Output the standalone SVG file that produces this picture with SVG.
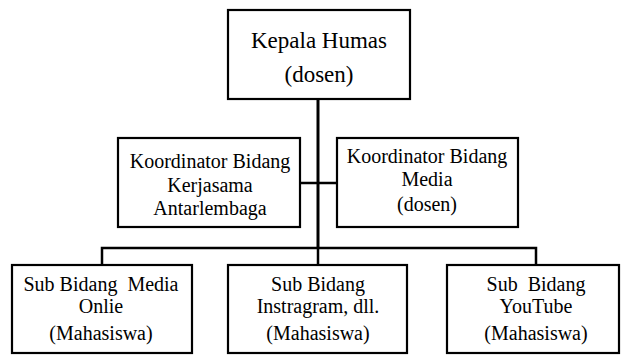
<svg xmlns="http://www.w3.org/2000/svg" width="621" height="356" viewBox="0 0 621 356">
<style>
.box{fill:#fff;stroke:#000;stroke-width:2.2}
.ln{fill:none;stroke:#000;stroke-width:2.5}
.trunk{fill:none;stroke:#000;stroke-width:3}
text{font-family:"Liberation Serif","Times New Roman",serif;fill:#000;text-anchor:middle;white-space:pre}
.t1{font-size:23px}
.t2{font-size:20px}
</style>
<rect width="621" height="356" fill="#fff"/>
<g id="connectors">
<line class="trunk" x1="318" y1="100" x2="318" y2="248"/>
<line class="ln" x1="300" y1="183" x2="337" y2="183"/>
<polyline class="ln" points="102,265 102,248 536,248 536,265"/>
<line class="ln" x1="318" y1="248" x2="318" y2="265"/>
</g>
<g id="kepala">
<rect class="box" x="228" y="10" width="182" height="89"/>
<text class="t1" x="319" y="48">Kepala Humas</text>
<text class="t1" x="319" y="82">(dosen)</text>
</g>
<g id="koord-kerjasama">
<rect class="box" x="118" y="138" width="182" height="89"/>
<text class="t2" x="210" y="168">Koordinator Bidang</text>
<text class="t2" x="210" y="192">Kerjasama</text>
<text class="t2" x="210" y="215">Antarlembaga</text>
</g>
<g id="koord-media">
<rect class="box" x="337" y="138" width="181" height="89"/>
<text class="t2" x="427" y="163">Koordinator Bidang</text>
<text class="t2" x="427" y="186">Media</text>
<text class="t2" x="427" y="211">(dosen)</text>
</g>
<g id="sub-media">
<rect class="box" x="12" y="265" width="180" height="88"/>
<text class="t2" x="101" y="291">Sub Bidang  Media</text>
<text class="t2" x="101" y="313">Onlie</text>
<text class="t2" x="101" y="340">(Mahasiswa)</text>
</g>
<g id="sub-instagram">
<rect class="box" x="228" y="265" width="179" height="88"/>
<text class="t2" x="318" y="291">Sub Bidang</text>
<text class="t2" x="318" y="313">Instragram, dll.</text>
<text class="t2" x="318" y="340">(Mahasiswa)</text>
</g>
<g id="sub-youtube">
<rect class="box" x="447" y="265" width="172" height="88"/>
<text class="t2" x="536" y="291">Sub  Bidang</text>
<text class="t2" x="536" y="313">YouTube</text>
<text class="t2" x="536" y="340">(Mahasiswa)</text>
</g>
</svg>
